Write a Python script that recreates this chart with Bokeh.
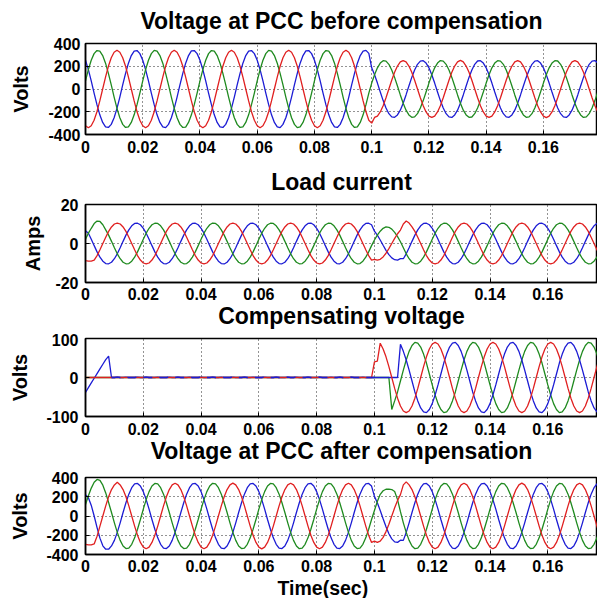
from bokeh.plotting import figure
from bokeh.layouts import column
from bokeh.models import Range1d, FixedTicker, Title
from bokeh.embed import file_html
from bokeh.resources import INLINE

# ---------------- data ----------------
T_MS = list(range(180))  # sampling instants, ms

X_TICKS = [0, 0.02, 0.04, 0.06, 0.08, 0.1, 0.12, 0.14, 0.16]
X_TICK_LABELS = ["0", "0.02", "0.04", "0.06", "0.08", "0.1", "0.12", "0.14", "0.16"]
V_TICKS = [-400, -200, 0, 200, 400]
V_TICK_LABELS = ["-400", "-200", "0", "200", "400"]
I_TICKS = [-20, 0, 20]
I_TICK_LABELS = ["-20", "0", "20"]
C_TICKS = [-100, 0, 100]
C_TICK_LABELS = ["-100", "0", "100"]

TITLES = ["Voltage at PCC before compensation", "Load current",
          "Compensating voltage", "Voltage at PCC after compensation"]
Y_LABELS = ["Volts", "Amps", "Volts", "Volts"]
X_LABEL = "Time(sec)"

# Voltage at PCC before compensation (V)
PCC1_BLUE = [
    253, 170, 71, -36, -138, -227, -294, -333, -338, -311, -253, -170, -71, 36, 138, 227, 294, 333, 338, 311,
    253, 170, 71, -36, -138, -227, -294, -333, -340, -311, -253, -170, -71, 36, 138, 227, 294, 335, 338, 311,
    253, 170, 71, -36, -138, -227, -294, -333, -338, -311, -253, -170, -71, 36, 138, 227, 294, 333, 338, 311,
    253, 170, 71, -36, -138, -227, -294, -333, -340, -311, -253, -170, -71, 36, 138, 227, 294, 335, 338, 311,
    253, 170, 71, -36, -138, -227, -294, -333, -338, -311, -253, -170, -71, 36, 138, 227, 294, 333, 340, 313,
    186, 125, 52, -26, -102, -167, -217, -245, -249, -228, -186, -125, -52, 26, 102, 167, 217, 245, 249, 228,
    186, 125, 52, -26, -102, -167, -217, -245, -250, -228, -186, -125, -52, 26, 102, 167, 217, 246, 249, 228,
    186, 125, 52, -26, -102, -167, -217, -245, -249, -228, -186, -125, -52, 26, 102, 167, 217, 245, 249, 228,
    186, 125, 52, -26, -102, -167, -217, -245, -250, -228, -186, -125, -52, 26, 102, 167, 217, 245, 250, 228,
]
PCC1_GREEN = [
    71, 170, 253, 311, 338, 333, 294, 227, 138, 36, -71, -170, -253, -311, -338, -333, -294, -227, -138, -36,
    71, 170, 253, 311, 340, 333, 294, 227, 138, 36, -71, -170, -253, -311, -338, -335, -294, -227, -138, -36,
    71, 170, 253, 311, 338, 333, 294, 227, 138, 36, -71, -170, -253, -311, -338, -333, -294, -227, -138, -36,
    71, 170, 253, 311, 340, 333, 294, 227, 138, 36, -71, -170, -253, -311, -340, -333, -294, -227, -138, -36,
    71, 170, 253, 311, 338, 333, 294, 227, 138, 36, -71, -170, -253, -311, -338, -333, -294, -227, -138, -36,
    52, 125, 186, 228, 249, 245, 217, 167, 102, 26, -52, -125, -186, -228, -249, -245, -217, -167, -102, -26,
    52, 125, 186, 228, 250, 245, 217, 167, 102, 26, -52, -125, -186, -228, -249, -246, -217, -167, -102, -26,
    52, 125, 186, 228, 249, 245, 217, 167, 102, 26, -52, -125, -186, -228, -249, -245, -217, -167, -102, -26,
    52, 125, 186, 228, 249, 246, 217, 167, 102, 26, -52, -125, -186, -228, -250, -245, -217, -167, -102, -26,
]
PCC1_RED = [
    -323, -340, -323, -275, -200, -105, 0, 105, 200, 275, 323, 340, 323, 275, 200, 105, 0, -105, -200, -275,
    -323, -340, -323, -275, -200, -105, 0, 105, 200, 275, 323, 341, 323, 275, 200, 105, 0, -105, -200, -275,
    -323, -341, -323, -275, -200, -105, 0, 105, 200, 275, 323, 340, 323, 275, 200, 105, 0, -105, -200, -275,
    -323, -340, -323, -275, -200, -105, 0, 105, 200, 275, 323, 340, 323, 275, 200, 105, 0, -105, -200, -275,
    -323, -340, -323, -275, -200, -105, 0, 105, 200, 275, 323, 341, 323, 275, 200, 105, 0, -105, -200, -275,
    -300, -250, -238, -202, -147, -77, 0, 77, 147, 202, 238, 250, 238, 202, 147, 77, 0, -77, -147, -202,
    -238, -250, -238, -202, -147, -77, 0, 77, 147, 202, 238, 251, 238, 202, 147, 77, 0, -77, -147, -202,
    -238, -250, -238, -202, -147, -77, 0, 77, 147, 202, 238, 250, 238, 202, 147, 77, 0, -77, -147, -202,
    -238, -251, -238, -202, -147, -77, 0, 77, 147, 202, 238, 250, 238, 202, 147, 77, 0, -77, -147, -202,
]

# Load current (A)
IL_BLUE = [
    6.5, 5.3, 2.2, -1.1, -4.3, -7.0, -9.1, -10.3, -10.4, -9.6, -7.8, -5.3, -2.2, 1.1, 4.3, 7.0, 9.1, 10.3, 10.4, 9.6,
    7.8, 5.3, 2.2, -1.1, -4.3, -7.0, -9.1, -10.3, -10.4, -9.6, -7.8, -5.3, -2.2, 1.1, 4.3, 7.0, 9.1, 10.3, 10.4, 9.6,
    7.8, 5.3, 2.2, -1.1, -4.3, -7.0, -9.1, -10.3, -10.5, -9.6, -7.8, -5.3, -2.2, 1.1, 4.3, 7.0, 9.1, 10.3, 10.4, 9.6,
    7.8, 5.3, 2.2, -1.1, -4.3, -7.0, -9.1, -10.3, -10.4, -9.6, -7.8, -5.3, -2.2, 1.1, 4.3, 7.0, 9.1, 10.3, 10.5, 9.6,
    7.8, 5.3, 2.2, -1.1, -4.3, -7.0, -9.1, -10.3, -10.4, -9.6, -7.8, -5.3, -2.2, 1.1, 4.3, 7.0, 9.1, 10.3, 10.4, 9.6,
    6.3, 4.3, 1.8, -0.9, -3.5, -5.7, -7.4, -8.3, -8.5, -7.8, -7.8, -5.3, -2.2, 1.1, 4.3, 7.0, 9.1, 10.3, 10.4, 9.6,
    7.8, 5.3, 2.2, -1.1, -4.3, -7.0, -9.1, -10.3, -10.4, -9.6, -7.8, -5.3, -2.2, 1.1, 4.3, 7.0, 9.1, 10.3, 10.4, 9.6,
    7.8, 5.3, 2.2, -1.1, -4.3, -7.0, -9.1, -10.3, -10.4, -9.6, -7.8, -5.3, -2.2, 1.1, 4.3, 7.0, 9.1, 10.3, 10.4, 9.6,
    7.8, 5.3, 2.2, -1.1, -4.3, -7.0, -9.1, -10.3, -10.4, -9.6, -7.8, -5.3, -2.2, 1.1, 4.3, 7.0, 9.1, 10.3, 10.4, 9.6,
]
IL_GREEN = [
    2.2, 5.3, 7.8, 10.2, 11.5, 11.3, 9.6, 7.0, 4.3, 1.1, -2.2, -5.3, -7.8, -9.6, -10.4, -10.3, -9.1, -7.0, -4.3, -1.1,
    2.2, 5.3, 7.8, 9.6, 10.4, 10.3, 9.1, 7.0, 4.3, 1.1, -2.2, -5.3, -7.8, -9.6, -10.4, -10.3, -9.1, -7.0, -4.3, -1.1,
    2.2, 5.3, 7.8, 9.6, 10.5, 10.3, 9.1, 7.0, 4.3, 1.1, -2.2, -5.3, -7.8, -9.6, -10.4, -10.3, -9.1, -7.0, -4.3, -1.1,
    2.2, 5.3, 7.8, 9.6, 10.4, 10.3, 9.1, 7.0, 4.3, 1.1, -2.2, -5.3, -7.8, -9.6, -10.4, -10.3, -9.1, -7.0, -4.3, -1.1,
    2.2, 5.3, 7.8, 9.6, 10.4, 10.3, 9.1, 7.0, 4.3, 1.1, -2.2, -5.3, -7.8, -9.6, -10.4, -10.3, -9.1, -7.0, -4.3, -1.1,
    1.8, 4.3, 6.3, 7.8, 8.5, 8.3, 7.4, 5.7, 3.5, 0.9, -2.2, -5.3, -7.8, -9.6, -10.4, -10.3, -9.1, -7.0, -4.3, -1.1,
    2.2, 5.3, 7.8, 9.6, 10.4, 10.3, 9.1, 7.0, 4.3, 1.1, -2.2, -5.3, -7.8, -9.6, -10.4, -10.3, -9.1, -7.0, -4.3, -1.1,
    2.2, 5.3, 7.8, 9.6, 10.4, 10.3, 9.1, 7.0, 4.3, 1.1, -2.2, -5.3, -7.8, -9.6, -10.4, -10.3, -9.1, -7.0, -4.3, -1.1,
    2.2, 5.3, 7.8, 9.6, 10.4, 10.3, 9.1, 7.0, 4.3, 1.1, -2.2, -5.3, -7.8, -9.6, -10.4, -10.3, -9.1, -7.0, -4.3, -1.1,
]
IL_RED = [
    -8.8, -9.0, -9.0, -8.5, -6.2, -3.2, 0, 3.2, 6.2, 8.5, 10.0, 10.5, 10.0, 8.5, 6.2, 3.2, 0, -3.2, -6.2, -8.5,
    -10.0, -10.5, -10.0, -8.5, -6.2, -3.2, 0, 3.2, 6.2, 8.5, 10.0, 10.5, 10.0, 8.5, 6.2, 3.2, 0, -3.2, -6.2, -8.5,
    -10.0, -10.5, -10.0, -8.5, -6.2, -3.2, 0, 3.2, 6.2, 8.5, 10.0, 10.5, 10.0, 8.5, 6.2, 3.2, 0, -3.2, -6.2, -8.5,
    -10.0, -10.5, -10.0, -8.5, -6.2, -3.2, 0, 3.2, 6.2, 8.5, 10.0, 10.5, 10.0, 8.5, 6.2, 3.2, 0, -3.2, -6.2, -8.5,
    -10.0, -10.5, -10.0, -8.5, -6.2, -3.2, 0, 3.2, 6.2, 8.5, 10.0, 10.5, 10.0, 8.5, 6.2, 3.2, 0, -3.2, -6.2, -8.5,
    -8.1, -8.5, -8.1, -6.9, -5.0, -2.6, 0, 2.6, 5.0, 6.9, 10.0, 11.5, 10.5, 8.5, 6.2, 3.2, 0, -3.2, -6.2, -8.5,
    -10.0, -10.5, -10.0, -8.5, -6.2, -3.2, 0, 3.2, 6.2, 8.5, 10.0, 10.5, 10.0, 8.5, 6.2, 3.2, 0, -3.2, -6.2, -8.5,
    -10.0, -10.5, -10.0, -8.5, -6.2, -3.2, 0, 3.2, 6.2, 8.5, 10.0, 10.5, 10.0, 8.5, 6.2, 3.2, 0, -3.2, -6.2, -8.5,
    -10.0, -10.5, -10.0, -8.5, -6.2, -3.2, 0, 3.2, 6.2, 8.5, 10.0, 10.5, 10.0, 8.5, 6.2, 3.2, 0, -3.2, -6.2, -8.5,
]

# Compensating voltage (V)
CV_BLUE = [
    -38, -26, -14, -2, 10, 22, 34, 46, 55, 0, 0, 1, 0, 0, 1, 0, 0, 0, 1, 0,
    0, 1, 0, 0, 0, 1, 0, 0, 0, 1, 0, 0, 1, 0, 0, 0, 1, 0, 0, 0,
    1, 0, 0, 0, 1, 0, 0, 1, 0, 0, 0, 1, 0, 0, 0, 1, 0, 0, 1, 0,
    0, 0, 1, 0, 0, 0, 1, 0, 0, 0, 1, 0, 0, 1, 0, 0, 0, 1, 0, 0,
    0, 1, 0, 0, 0, 1, 0, 0, 1, 0, 0, 0, 1, 0, 0, 0, 1, 0, 0, 0,
    0, 0, 0, 0, 0, 0, 0, 0, 0, 85, 67, 45, 19, -9, -37, -60, -78, -88, -90, -82,
    -67, -45, -19, 9, 37, 60, 78, 88, 90, 82, 67, 45, 19, -9, -37, -60, -78, -88, -90, -82,
    -67, -45, -19, 9, 37, 60, 78, 88, 90, 82, 67, 45, 19, -9, -37, -60, -78, -88, -90, -82,
    -67, -45, -19, 9, 37, 60, 78, 88, 90, 82, 67, 45, 19, -9, -37, -60, -78, -88, -90, -82,
]
CV_GREEN = [
    0, 0, 0, 0, 0, 0, 0, 0, 0, 0, 0, 0, 0, 0, 0, 0, 0, 0, 0, 0,
    0, 0, 0, 0, 0, 0, 0, 0, 0, 0, 0, 0, 0, 0, 0, 0, 0, 0, 0, 0,
    0, 0, 0, 0, 0, 0, 0, 0, 0, 0, 0, 0, 0, 0, 0, 0, 0, 0, 0, 0,
    0, 0, 0, 0, 0, 0, 0, 0, 0, 0, 0, 0, 0, 0, 0, 0, 0, 0, 0, 0,
    0, 0, 0, 0, 0, 0, 0, 0, 0, 0, 0, 0, 0, 0, 0, 0, 0, 0, 0, 0,
    0, 0, 0, 0, 0, 0, -82, -60, -37, -9, 19, 45, 67, 82, 90, 88, 78, 60, 37, 9,
    -19, -45, -67, -82, -90, -88, -78, -60, -37, -9, 19, 45, 67, 82, 90, 88, 78, 60, 37, 9,
    -19, -45, -67, -82, -90, -88, -78, -60, -37, -9, 19, 45, 67, 82, 90, 88, 78, 60, 37, 9,
    -19, -45, -67, -82, -90, -88, -78, -60, -37, -9, 19, 45, 67, 82, 90, 88, 78, 60, 37, 9,
]
CV_RED = [
    0, 0, 0, 0, 0, 0, 0, 0, 0, 0, 0, 0, 0, 0, 0, 0, 0, 0, 0, 0,
    0, 0, 0, 0, 0, 0, 0, 0, 0, 0, 0, 0, 0, 0, 0, 0, 0, 0, 0, 0,
    0, 0, 0, 0, 0, 0, 0, 0, 0, 0, 0, 0, 0, 0, 0, 0, 0, 0, 0, 0,
    0, 0, 0, 0, 0, 0, 0, 0, 0, 0, 0, 0, 0, 0, 0, 0, 0, 0, 0, 0,
    0, 0, 0, 0, 0, 0, 0, 0, 0, 0, 0, 0, 0, 0, 0, 0, 0, 0, 0, 0,
    40, 42, 88, 73, 53, 28, 0, -28, -53, -73, -86, -90, -86, -73, -53, -28, 0, 28, 53, 73,
    86, 90, 86, 73, 53, 28, 0, -28, -53, -73, -86, -90, -86, -73, -53, -28, 0, 28, 53, 73,
    86, 90, 86, 73, 53, 28, 0, -28, -53, -73, -86, -90, -86, -73, -53, -28, 0, 28, 53, 73,
    86, 90, 86, 73, 53, 28, 0, -28, -53, -73, -86, -90, -86, -73, -53, -28, 0, 28, 53, 73,
]

# Voltage at PCC after compensation (V)
PCC2_BLUE = [
    220, 190, 110, 0, -120, -230, -310, -345, -345, -311, -253, -170, -71, 36, 138, 227, 294, 333, 338, 311,
    253, 170, 71, -36, -138, -227, -294, -333, -338, -311, -253, -170, -71, 36, 138, 227, 294, 333, 338, 311,
    253, 170, 71, -36, -138, -227, -294, -333, -340, -311, -253, -170, -71, 36, 138, 227, 294, 333, 338, 311,
    253, 170, 71, -36, -138, -227, -294, -333, -338, -311, -253, -170, -71, 36, 138, 227, 294, 333, 340, 311,
    253, 170, 71, -36, -138, -227, -294, -333, -338, -311, -253, -170, -71, 36, 138, 227, 294, 333, 338, 311,
    204, 138, 57, -29, -112, -184, -238, -269, -274, -251, -253, -170, -71, 36, 138, 227, 294, 333, 338, 311,
    253, 170, 71, -36, -138, -227, -294, -333, -338, -311, -253, -170, -71, 36, 138, 227, 294, 333, 340, 311,
    253, 170, 71, -36, -138, -227, -294, -333, -340, -311, -253, -170, -71, 36, 138, 227, 294, 333, 338, 311,
    253, 170, 71, -36, -138, -227, -294, -333, -338, -311, -253, -170, -71, 36, 138, 227, 294, 333, 338, 311,
]
PCC2_GREEN = [
    120, 210, 290, 350, 380, 370, 320, 240, 140, 36, -71, -170, -253, -311, -338, -333, -294, -227, -138, -36,
    71, 170, 253, 311, 338, 333, 294, 227, 138, 36, -71, -170, -253, -311, -338, -333, -294, -227, -138, -36,
    71, 170, 253, 311, 340, 333, 294, 227, 138, 36, -71, -170, -253, -311, -338, -333, -294, -227, -138, -36,
    71, 170, 253, 311, 338, 333, 294, 227, 138, 36, -71, -170, -253, -311, -340, -333, -294, -227, -138, -36,
    71, 170, 253, 311, 338, 333, 294, 227, 138, 36, -71, -170, -253, -311, -338, -333, -294, -227, -138, -36,
    57, 150, 225, 262, 278, 280, 275, 255, 170, 45, -71, -170, -253, -311, -340, -333, -294, -227, -138, -36,
    71, 170, 253, 311, 338, 333, 294, 227, 138, 36, -71, -170, -253, -311, -338, -333, -294, -227, -138, -36,
    71, 170, 253, 311, 340, 333, 294, 227, 138, 36, -71, -170, -253, -311, -338, -333, -294, -227, -138, -36,
    71, 170, 253, 311, 338, 333, 294, 227, 138, 36, -71, -170, -253, -311, -338, -333, -294, -227, -138, -36,
]
PCC2_RED = [
    -295, -300, -300, -290, -210, -105, 0, 105, 200, 275, 323, 350, 323, 275, 200, 105, 0, -105, -200, -275,
    -323, -340, -323, -275, -200, -105, 0, 105, 200, 275, 323, 340, 323, 275, 200, 105, 0, -105, -200, -275,
    -323, -340, -323, -275, -200, -105, 0, 105, 200, 275, 323, 341, 323, 275, 200, 105, 0, -105, -200, -275,
    -323, -341, -323, -275, -200, -105, 0, 105, 200, 275, 323, 340, 323, 275, 200, 105, 0, -105, -200, -275,
    -323, -340, -323, -275, -200, -105, 0, 105, 200, 275, 323, 340, 323, 275, 200, 105, 0, -105, -200, -275,
    -262, -275, -262, -222, -162, -85, 0, 85, 162, 222, 323, 355, 323, 275, 200, 105, 0, -105, -200, -275,
    -323, -340, -323, -275, -200, -105, 0, 105, 200, 275, 323, 340, 323, 275, 200, 105, 0, -105, -200, -275,
    -323, -340, -323, -275, -200, -105, 0, 105, 200, 275, 323, 341, 323, 275, 200, 105, 0, -105, -200, -275,
    -323, -340, -323, -275, -200, -105, 0, 105, 200, 275, 323, 340, 323, 275, 200, 105, 0, -105, -200, -275,
]

# ---------------- styling ----------------
FONT = "Liberation Sans"
BLUE = "#1c1cd4"
GREEN = "#1f8a1f"
RED = "#e02020"
LW = 1.3
TITLE_SIZE = "23px"

t = [k / 1000 for k in T_MS]


def make_panel(height, top, bottom, left, x_end, y_lo, y_hi, yticks, ylabels,
               ylab, ylab_standoff, xlab_standoff, ylab_tick_standoff):
    p = figure(width=597, height=height, output_backend="svg", toolbar_location=None,
               title=None,
               x_range=Range1d(0, x_end), y_range=Range1d(y_lo, y_hi),
               min_border_left=left, min_border_right=0,
               min_border_top=top, min_border_bottom=bottom)
    p.background_fill_color = "white"
    p.border_fill_color = "white"
    p.outline_line_color = "black"
    p.outline_line_width = 1.5
    p.outline_line_alpha = 1.0

    p.xaxis.ticker = FixedTicker(ticks=X_TICKS)
    p.xaxis.major_label_overrides = dict(zip(X_TICKS, X_TICK_LABELS))
    p.yaxis.ticker = FixedTicker(ticks=yticks)
    p.yaxis.major_label_overrides = dict(zip(yticks, ylabels))
    p.yaxis.axis_label = ylab
    p.yaxis.axis_label_standoff = ylab_standoff
    p.yaxis.axis_label_text_font = FONT
    p.yaxis.axis_label_text_font_size = "20px"
    p.yaxis.axis_label_text_font_style = "bold"
    p.yaxis.axis_label_text_color = "black"
    p.xaxis.major_label_standoff = xlab_standoff
    p.yaxis.major_label_standoff = ylab_tick_standoff
    for ax in (p.xaxis[0], p.yaxis[0]):
        ax.axis_line_color = "black"
        ax.axis_line_width = 1.5
        ax.major_tick_in = 4
        ax.major_tick_out = 0
        ax.minor_tick_in = 0
        ax.minor_tick_out = 0
        ax.major_tick_line_color = "black"
        ax.major_label_text_font = FONT
        ax.major_label_text_font_size = "16px"
        ax.major_label_text_font_style = "bold"
        ax.major_label_text_color = "black"
    for g in (p.xgrid[0], p.ygrid[0]):
        g.grid_line_color = "black"
        g.grid_line_dash = "1 3"
        g.grid_line_width = 1
        g.grid_line_alpha = 0.85
    p.xgrid.ticker = FixedTicker(ticks=X_TICKS)
    p.ygrid.ticker = FixedTicker(ticks=yticks)
    return p


def add_title(p, text, place, standoff, valign="top", size=TITLE_SIZE, align="center", offset=0):
    p.add_layout(Title(text=text, align=align, offset=offset, vertical_align=valign,
                       text_font=FONT, text_font_size=size, text_font_style="bold",
                       text_color="black", standoff=standoff), place)


# panel 1
p1 = make_panel(158, 43, 24, 80, 0.1789, -400, 400, V_TICKS, V_TICK_LABELS,
                Y_LABELS[0], 13, 6, 5)
add_title(p1, TITLES[0], "above", 15)
p1.line(t, PCC1_BLUE, line_color=BLUE, line_width=LW)
p1.line(t, PCC1_GREEN, line_color=GREEN, line_width=LW)
p1.line(t, PCC1_RED, line_color=RED, line_width=LW)

# panel 2 (its bottom border also carries the title of panel 3)
p2 = make_panel(175, 46, 51, 85, 0.1772, -20, 20, I_TICKS, I_TICK_LABELS,
                Y_LABELS[1], 8, 5, 7)
add_title(p2, TITLES[1], "above", 16)
add_title(p2, TITLES[2], "below", 0)
p2.line(t, IL_BLUE, line_color=BLUE, line_width=LW)
p2.line(t, IL_GREEN, line_color=GREEN, line_width=LW)
p2.line(t, IL_RED, line_color=RED, line_width=LW)

# panel 3 (its bottom border also carries the title of panel 4)
p3 = make_panel(135, 5, 52, 85, 0.1772, -100, 100, C_TICKS, C_TICK_LABELS,
                Y_LABELS[2], 12, 6, 7)
add_title(p3, TITLES[3], "below", 0)
p3.line(t, CV_GREEN, line_color=GREEN, line_width=LW)
p3.line(t, CV_BLUE, line_color=BLUE, line_width=LW)
p3.line(t, CV_RED, line_color=RED, line_width=LW)
p3.line(t[9:101], CV_BLUE[9:101], line_color=BLUE, line_width=LW, line_dash="9 7")

# panel 4
p4 = make_panel(130, 9, 44, 85, 0.1772, -400, 400, V_TICKS, V_TICK_LABELS,
                Y_LABELS[3], 12, 5, 7)
add_title(p4, X_LABEL, "below", 0, valign="bottom", size="19.5px", align="left", offset=192)
p4.line(t, PCC2_BLUE, line_color=BLUE, line_width=LW)
p4.line(t, PCC2_GREEN, line_color=GREEN, line_width=LW)
p4.line(t, PCC2_RED, line_color=RED, line_width=LW)

layout = column(p1, p2, p3, p4)
open("out.html", "w").write(file_html(layout, INLINE))
